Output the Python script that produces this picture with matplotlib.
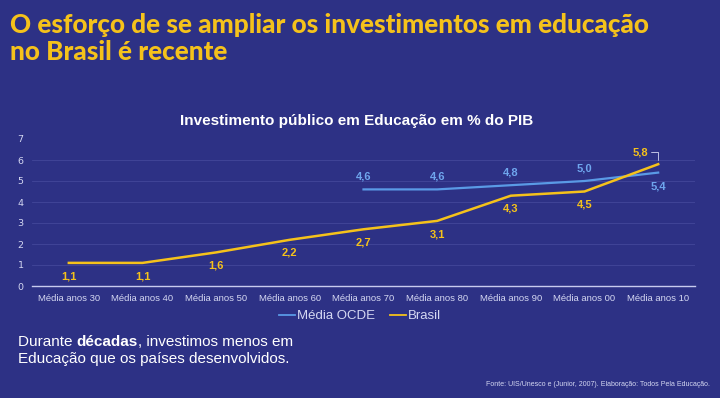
import matplotlib
matplotlib.use('Agg')
import matplotlib.pyplot as plt

# data
decades = ['Média anos 30', 'Média anos 40', 'Média anos 50', 'Média anos 60',
           'Média anos 70', 'Média anos 80', 'Média anos 90', 'Média anos 00',
           'Média anos 10']
brasil = [1.1, 1.1, 1.6, 2.2, 2.7, 3.1, 4.3, 4.5, 5.8]
ocde_idx = [4, 5, 6, 7, 8]
ocde = [4.6, 4.6, 4.8, 5.0, 5.4]

bg = '#2d3185'
yellow = '#f5c21b'
blue = '#5a9ae6'
light = '#d5d8f2'
W, H = 720, 398

fig = plt.figure(figsize=(7.2, 3.98), dpi=100)
fig.patch.set_facecolor(bg)

ax = fig.add_axes([32/W, 1-286/H, 663/W, 147/H])
ax.set_facecolor(bg)
x = list(range(len(decades)))

for g in range(1, 7):
    ax.axhline(g, color='#43479a', lw=0.6, zorder=0)

ax.plot(ocde_idx, ocde, color=blue, lw=1.6, label='Média OCDE', zorder=2)
ax.plot(x, brasil, color=yellow, lw=1.8, label='Brasil', zorder=3)

ax.set_xlim(-0.5, len(decades) - 0.5)
ax.set_ylim(0, 7)
ax.set_yticks(range(8))
ax.set_xticks(x)
ax.set_xticklabels(decades, fontsize=6.8, color=light, family='Liberation Sans')
ax.tick_params(axis='y', labelsize=6.8, labelcolor=light, length=0, pad=6)
ax.tick_params(axis='x', length=0, pad=6)
for s in ['top', 'right', 'left']:
    ax.spines[s].set_visible(False)
ax.spines['bottom'].set_color('#c8cbef')
ax.spines['bottom'].set_linewidth(1.0)

def fmt(v):
    return ('%.1f' % v).replace('.', ',')

for i, v in enumerate(brasil):
    if i == len(brasil) - 1:
        ax.annotate(fmt(v), (i, v), xytext=(-13, 8.6), textcoords='offset points',
                    ha='center', va='center', color=yellow, fontsize=8,
                    fontweight='bold', family='Liberation Sans')
        # small leader from label to point
        ax.annotate('', (i, v), xytext=(-5.5, 8.6), textcoords='offset points',
                    xycoords='data',
                    arrowprops=dict(arrowstyle='-', color=light, lw=0.6,
                                    shrinkA=0, shrinkB=3,
                                    connectionstyle='angle,angleA=0,angleB=90,rad=0'))
    else:
        ax.annotate(fmt(v), (i, v), xytext=(0, -9.5), textcoords='offset points',
                    ha='center', va='center', color=yellow, fontsize=8,
                    fontweight='bold', family='Liberation Sans')

for i, v in zip(ocde_idx, ocde):
    dy = -10 if i == 8 else 9
    ax.annotate(fmt(v), (i, v), xytext=(0, dy), textcoords='offset points',
                ha='center', va='center', color='#6fa6ee', fontsize=8,
                fontweight='bold', family='Liberation Sans')

fig.text(357/W, 1-121/H, 'Investimento público em Educação em % do PIB', color='white',
         fontsize=11, fontweight='bold', family='Liberation Sans', ha='center', va='center')

leg = fig.legend(loc='center', bbox_to_anchor=(0.5, 1-316/H), ncol=2, frameon=False,
                 handlelength=1.2, handletextpad=0.1, columnspacing=1.2,
                 prop={'family': 'Liberation Sans', 'size': 9.5})
for t in leg.get_texts():
    t.set_color(light)
for l in leg.get_lines():
    l.set_linewidth(1.3)

fig.text(10/W, 1-33/H, 'O esforço de se ampliar os investimentos em educação',
         color=yellow, fontsize=18.8, fontweight='black', family='Lato',
         va='baseline', ha='left')
fig.text(10/W, 1-60/H, 'no Brasil é recente',
         color=yellow, fontsize=18.8, fontweight='black', family='Lato',
         va='baseline', ha='left')

# bottom text with bold word
fig.canvas.draw()
r = fig.canvas.get_renderer()
xpos = 18
for part, wt in [('Durante ', 'normal'), ('décadas', 'bold'), (', investimos menos em', 'normal')]:
    t = fig.text(xpos/W, 1-342/H, part, color='white', fontsize=11, fontweight=wt,
                 family='Liberation Sans', va='center')
    xpos += t.get_window_extent(r).width
fig.text(18/W, 1-359/H, 'Educação que os países desenvolvidos.',
         color='white', fontsize=11, family='Liberation Sans', va='center')
fig.text(710/W, 1-385/H,
         'Fonte: UIS/Unesco e (Junior, 2007). Elaboração: Todos Pela Educação.',
         color=light, fontsize=5, family='Liberation Sans', ha='right', va='center')

fig.savefig('out.png', dpi=100, facecolor=bg)
